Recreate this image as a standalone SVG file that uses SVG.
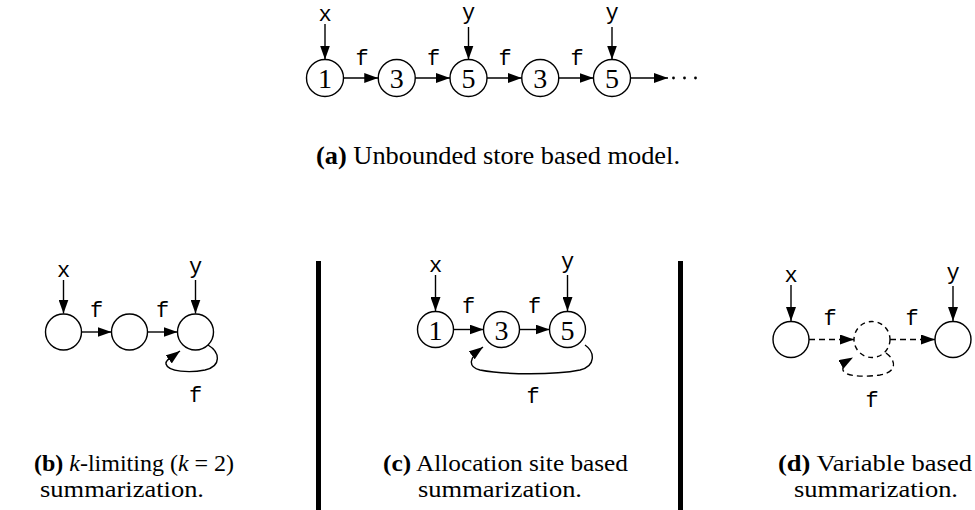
<svg xmlns="http://www.w3.org/2000/svg" width="975" height="510" viewBox="0 0 975 510">
<style>
.n{fill:#fff;stroke:#000;stroke-width:1.4}
.nd{fill:#fff;stroke:#000;stroke-width:1.4;stroke-dasharray:5 4}
.e{fill:none;stroke:#000;stroke-width:1.4;marker-end:url(#ah)}
.ed{fill:none;stroke:#000;stroke-width:1.4;stroke-dasharray:6 4;marker-end:url(#ah)}
.m{font-family:"Liberation Mono",monospace;font-size:22px;text-anchor:middle;fill:#000}
.d{font-family:"Liberation Serif",serif;font-size:28px;text-anchor:middle;fill:#000}
.c{font-family:"Liberation Serif",serif;font-size:25px;text-anchor:middle;fill:#000}
.c2{font-family:"Liberation Serif",serif;font-size:24px;text-anchor:middle;fill:#000}
.b{font-weight:bold}
.i{font-style:italic}
</style>
<defs>
<marker id="ah" markerUnits="userSpaceOnUse" markerWidth="14" markerHeight="10" refX="14" refY="5" orient="auto" viewBox="0 0 14 10">
<path d="M0,0 L14,5 L0,10 z" fill="#000"/>
</marker>
</defs>

<!-- (a) -->
<g id="a-x"><text class="m" x="325" y="21">x</text></g>
<g id="a-y1"><text class="m" x="468.5" y="19">y</text></g>
<g id="a-y2"><text class="m" x="612" y="19">y</text></g>
<g id="a-n1"><circle class="n" cx="325" cy="78" r="18.5"/><text class="d" x="325" y="88">1</text></g>
<g id="a-n2"><circle class="n" cx="396.75" cy="78" r="18.5"/><text class="d" x="396.75" y="88">3</text></g>
<g id="a-n3"><circle class="n" cx="468.5" cy="78" r="18.5"/><text class="d" x="468.5" y="88">5</text></g>
<g id="a-n4"><circle class="n" cx="540.25" cy="78" r="18.5"/><text class="d" x="540.25" y="88">3</text></g>
<g id="a-n5"><circle class="n" cx="612" cy="78" r="18.5"/><text class="d" x="612" y="88">5</text></g>
<g id="a-edges">
<path class="e" d="M325,24 V59.5"/>
<path class="e" d="M468.5,27 V59.5"/>
<path class="e" d="M612,27 V59.5"/>
<path class="e" d="M343.5,78 H378.25"/>
<path class="e" d="M415.25,78 H450"/>
<path class="e" d="M487,78 H521.75"/>
<path class="e" d="M558.75,78 H593.5"/>
<path class="e" d="M630.5,78 H668"/>
<text class="m" x="362" y="65">f</text>
<text class="m" x="433.5" y="65">f</text>
<text class="m" x="505" y="65">f</text>
<text class="m" x="577" y="65">f</text>
<circle cx="673.5" cy="78" r="1.4"/>
<circle cx="684.5" cy="78" r="1.4"/>
<circle cx="695.5" cy="78" r="1.4"/>
</g>
<text class="c" x="498" y="164" textLength="364" lengthAdjust="spacingAndGlyphs"><tspan class="b">(a)</tspan> Unbounded store based model.</text>

<!-- (b) -->
<g id="b-x"><text class="m" x="63.5" y="277">x</text></g>
<g id="b-y"><text class="m" x="195.5" y="273">y</text></g>
<g id="b-n1"><circle class="n" cx="63.5" cy="332" r="18"/></g>
<g id="b-n2"><circle class="n" cx="129.5" cy="332" r="18"/></g>
<g id="b-n3"><circle class="n" cx="195.5" cy="332" r="18"/></g>
<g id="b-edges">
<path class="e" d="M63.5,280 V313.5"/>
<path class="e" d="M195.5,280 V313.5"/>
<path class="e" d="M81.5,332 H111.5"/>
<path class="e" d="M147.5,332 H177.5"/>
<path class="e" d="M208,345 C220,352 222,366 205,370 C190,373 168,372 166,364 C165,360 172,357 180,351"/>
<text class="m" x="96.5" y="317">f</text>
<text class="m" x="162.5" y="317">f</text>
<text class="m" x="195.5" y="402">f</text>
</g>
<text class="c2" x="134" y="471"><tspan class="b">(b)</tspan> <tspan class="i">k</tspan>-limiting (<tspan class="i">k</tspan> = 2)</text>
<text class="c2" x="122" y="497" textLength="164" lengthAdjust="spacingAndGlyphs">summarization.</text>

<rect x="316" y="261" width="5" height="249" fill="#000"/>
<rect x="678" y="261" width="5" height="249" fill="#000"/>

<!-- (c) -->
<g id="c-x"><text class="m" x="435.5" y="272">x</text></g>
<g id="c-y"><text class="m" x="567.5" y="268">y</text></g>
<g id="c-n1"><circle class="n" cx="435.5" cy="329.5" r="18"/><text class="d" x="435.5" y="339.5">1</text></g>
<g id="c-n2"><circle class="n" cx="501.5" cy="329.5" r="18"/><text class="d" x="501.5" y="339.5">3</text></g>
<g id="c-n3"><circle class="n" cx="567.5" cy="329.5" r="18"/><text class="d" x="567.5" y="339.5">5</text></g>
<g id="c-edges">
<path class="e" d="M435.5,275 V311"/>
<path class="e" d="M567.5,275 V311"/>
<path class="e" d="M453.5,329.5 H483.5"/>
<path class="e" d="M519.5,329.5 H549.5"/>
<path class="e" d="M585,345 C595,352 596,366 580,370 C555,375 505,375 480,370 C468,367 468,358 483,347"/>
<text class="m" x="468.5" y="313">f</text>
<text class="m" x="534.5" y="313">f</text>
<text class="m" x="533" y="403">f</text>
</g>
<text class="c2" x="505.5" y="471" textLength="245" lengthAdjust="spacingAndGlyphs"><tspan class="b">(c)</tspan> Allocation site based</text>
<text class="c2" x="500" y="497" textLength="164" lengthAdjust="spacingAndGlyphs">summarization.</text>

<!-- (d) -->
<g id="d-x"><text class="m" x="791" y="282">x</text></g>
<g id="d-y"><text class="m" x="953" y="279">y</text></g>
<g id="d-n1"><circle class="n" cx="791" cy="339.5" r="18"/></g>
<g id="d-n2"><circle class="nd" cx="872" cy="339.5" r="18"/></g>
<g id="d-n3"><circle class="n" cx="953" cy="339.5" r="18"/></g>
<g id="d-edges">
<path class="e" d="M791,285 V321"/>
<path class="e" d="M953,286 V321"/>
<path class="ed" d="M809,339.5 H854"/>
<path class="ed" d="M890,339.5 H935"/>
<path class="ed" d="M886,353 C896,360 898,372 880,375 C865,377 845,377 843,370 C842,365 847,361 853,357.5"/>
<text class="m" x="830" y="325">f</text>
<text class="m" x="912" y="325">f</text>
<text class="m" x="872" y="407">f</text>
</g>
<text class="c2" x="875" y="471" textLength="194" lengthAdjust="spacingAndGlyphs"><tspan class="b">(d)</tspan> Variable based</text>
<text class="c2" x="876" y="497" textLength="164" lengthAdjust="spacingAndGlyphs">summarization.</text>
</svg>
